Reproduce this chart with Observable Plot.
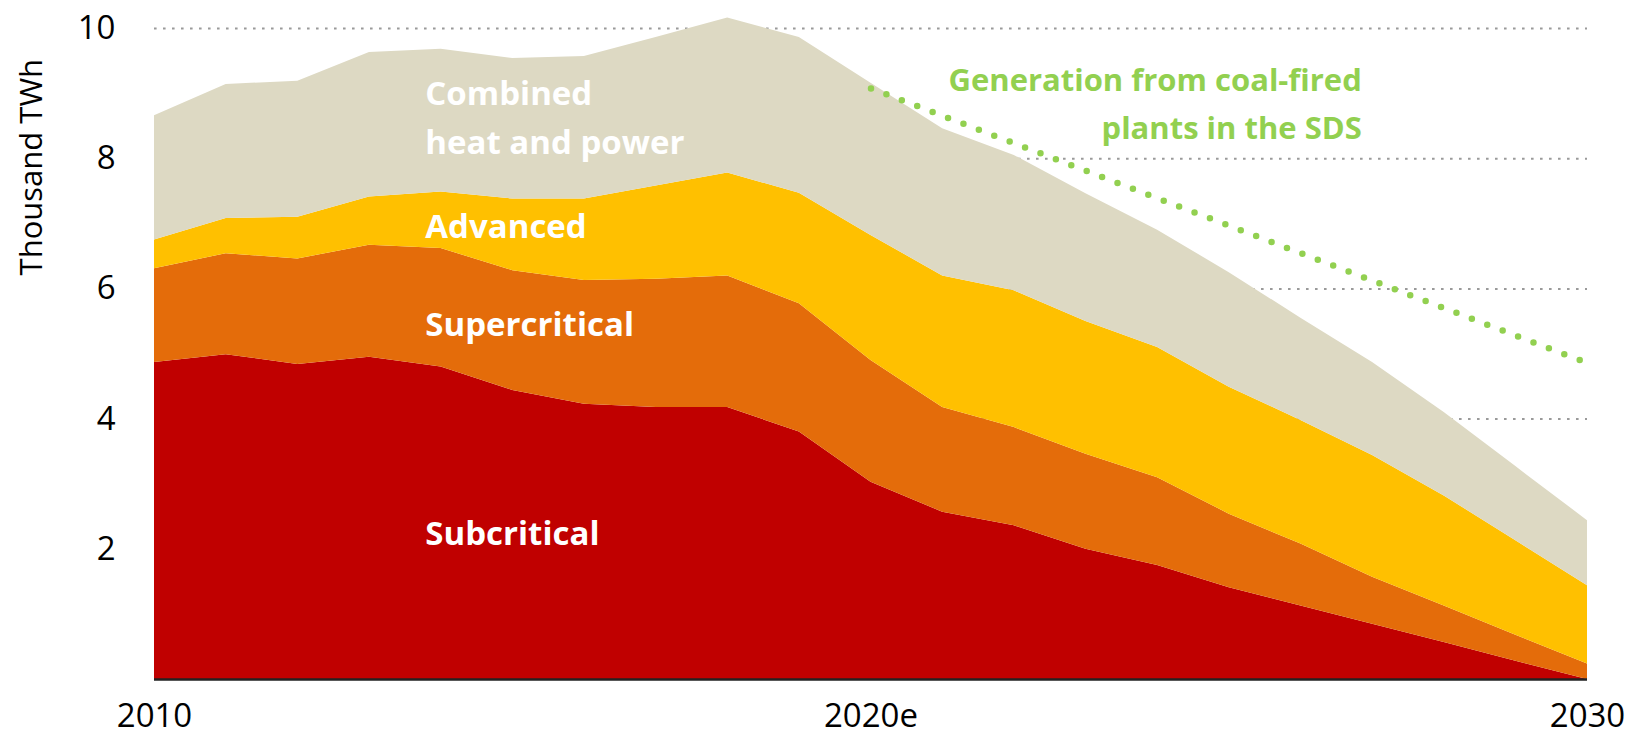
<!DOCTYPE html>
<html>
<head>
<meta charset="utf-8">
<script src="https://cdn.jsdelivr.net/npm/d3@7"></script>
<script src="https://cdn.jsdelivr.net/npm/@observablehq/plot@0.6"></script>
<style>
  html, body { margin: 0; padding: 0; background: #ffffff; }
  #chart svg { display: block; }
</style>
</head>
<body>
<div id="chart"></div>
<script>
// ---- Data (thousand TWh) ----
const years = [2010, 2011, 2012, 2013, 2014, 2015, 2016, 2017, 2018, 2019, 2020,
               2021, 2022, 2023, 2024, 2025, 2026, 2027, 2028, 2029, 2030];
const subcritical   = [4.87, 4.99, 4.84, 4.95, 4.80, 4.44, 4.23, 4.18, 4.18, 3.80, 3.03,
                       2.57, 2.36, 2.00, 1.75, 1.41, 1.13, 0.85, 0.57, 0.28, 0.00];
const supercritical = [1.44, 1.55, 1.62, 1.72, 1.82, 1.84, 1.90, 1.97, 2.02, 1.97, 1.87,
                       1.61, 1.51, 1.46, 1.35, 1.13, 0.95, 0.72, 0.56, 0.40, 0.24];
const advanced      = [0.44, 0.54, 0.64, 0.74, 0.87, 1.10, 1.25, 1.43, 1.58, 1.70, 1.92,
                       2.02, 2.10, 2.04, 2.00, 1.95, 1.90, 1.87, 1.69, 1.45, 1.20];
const chp           = [1.91, 2.06, 2.09, 2.22, 2.19, 2.16, 2.19, 2.28, 2.38, 2.39, 2.34,
                       2.26, 2.08, 1.96, 1.80, 1.76, 1.57, 1.43, 1.28, 1.14, 1.00];

const seriesNames  = ["Subcritical", "Supercritical", "Advanced", "Combined heat and power"];
const seriesColors = ["#C00000", "#E46C0A", "#FFC000", "#DDD9C3"];

// Generation from coal-fired plants in the SDS
const sdsYears  = [2020, 2030];
const sdsValues = [9.08, 4.86];

const yTicks = [2, 4, 6, 8, 10];
const xTicks = [2010, 2020, 2030];
const xTickLabels = ["2010", "2020e", "2030"];

const yLabel = "Thousand TWh";
const areaLabels = ["Combined\nheat and power", "Advanced", "Supercritical", "Subcritical"];
const sdsLabel = "Generation from coal-fired\nplants in the SDS";

// ---- Build tables ----
const seriesValues = [subcritical, supercritical, advanced, chp];
const rows = [];
seriesNames.forEach((name, i) => {
  years.forEach((yr, j) => rows.push({year: yr, series: name, value: seriesValues[i][j]}));
});
const sds = sdsYears.map((yr, i) => ({year: yr, value: sdsValues[i]}));

const FONT = "'Open Sans', 'DejaVu Sans', sans-serif";

const chart = Plot.plot({
  width: 1632,
  height: 737,
  marginTop: 28,
  marginBottom: 58,
  marginLeft: 154,
  marginRight: 45,
  style: {fontFamily: FONT, background: "#ffffff", color: "#000000"},
  x: {domain: [2010, 2030], type: "linear"},
  y: {domain: [0, 10]},
  color: {domain: seriesNames, range: seriesColors},
  marks: [
    // dotted gridlines
    Plot.ruleY(yTicks, {x1: 2010, x2: 2030, stroke: "#9a9a9a", strokeWidth: 2, strokeDasharray: "2.6 6.4"}),
    // stacked areas
    Plot.areaY(rows, Plot.stackY({x: "year", y: "value", z: "series", fill: "series", curve: "linear"})),
    // baseline
    Plot.ruleY([0], {x1: 2010, x2: 2030, stroke: "#222222", strokeWidth: 2.5}),
    // SDS dotted line
    Plot.line(sds, {x: "year", y: "value", stroke: "#92D050", strokeWidth: 6.5,
      strokeDasharray: "0 16.5", strokeLinecap: "round"}),
    // axes
    Plot.axisY(yTicks, {tickSize: 0, tickPadding: 39, fontSize: 33, label: null,
      tickFormat: d => String(d)}),
    Plot.axisX(xTicks, {tickSize: 0, tickPadding: 24, fontSize: 33, label: null,
      tickFormat: d => xTickLabels[xTicks.indexOf(d)]}),
    // y axis title
    Plot.text([yLabel], {x: 2010, y: 7.87, dx: -122, rotate: -90, text: d => d,
      fontSize: 31, fill: "#000000"}),
    // area labels
    Plot.text([areaLabels[0]], {x: 2013.78, y: 8.69, text: d => d, textAnchor: "start",
      lineHeight: 1.48, fill: "#ffffff", fontWeight: 700, fontSize: 33}),
    Plot.text([areaLabels[1]], {x: 2013.78, y: 6.94, text: d => d, textAnchor: "start",
      fill: "#ffffff", fontWeight: 700, fontSize: 33}),
    Plot.text([areaLabels[2]], {x: 2013.78, y: 5.445, text: d => d, textAnchor: "start",
      fill: "#ffffff", fontWeight: 700, fontSize: 33}),
    Plot.text([areaLabels[3]], {x: 2013.78, y: 2.23, text: d => d, textAnchor: "start",
      fill: "#ffffff", fontWeight: 700, fontSize: 33}),
    // SDS label
    Plot.text([sdsLabel], {x: 2026.85, y: 8.91, text: d => d, textAnchor: "end",
      lineHeight: 1.55, fill: "#92D050", fontWeight: 700, fontSize: 31})
  ]
});
document.getElementById("chart").appendChild(chart);
</script>
</body>
</html>
